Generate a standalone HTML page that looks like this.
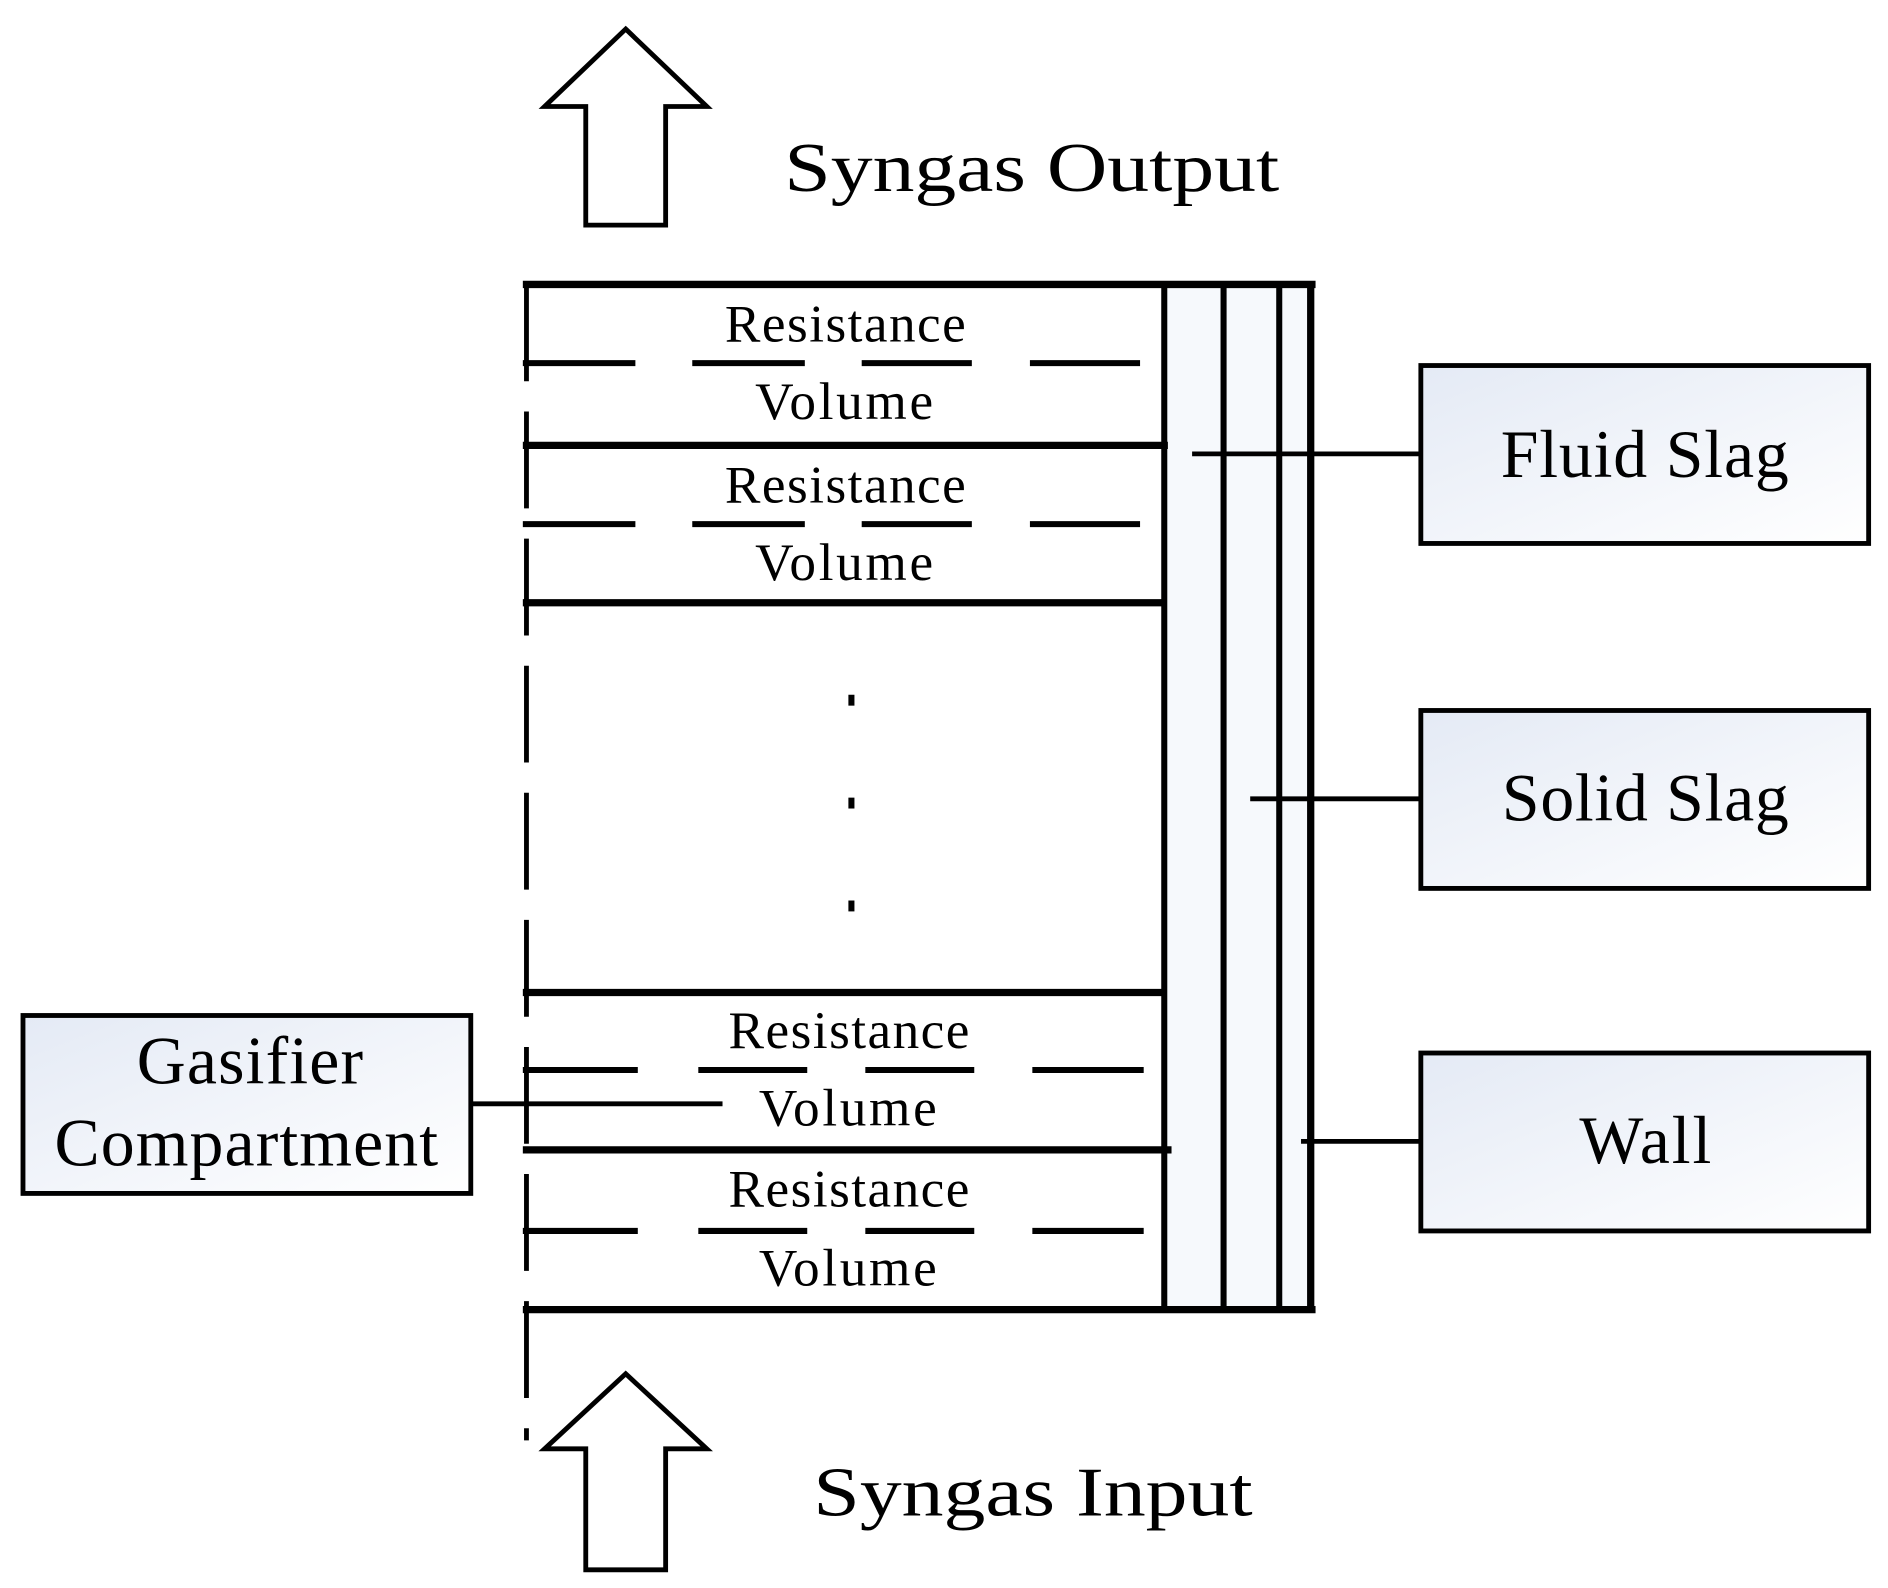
<!DOCTYPE html>
<html><head><meta charset="utf-8"><style>html,body{margin:0;padding:0;background:#fff}svg{display:block}text{font-family:"Liberation Serif","Times New Roman",serif}</style></head>
<body>
<svg width="1888" height="1588" viewBox="0 0 1560 1312" preserveAspectRatio="none" xmlns="http://www.w3.org/2000/svg">
<defs>
<linearGradient id="g" x1="0" y1="0" x2="1" y2="1"><stop offset="0" stop-color="#e4eaf5"/><stop offset="1" stop-color="#ffffff"/></linearGradient>
</defs>
<g fill="#fff" stroke="#000" stroke-width="4">
<polygon points="517,24 584,88 550,88 550,186 484,186 484,88 450,88"/>
<polygon points="517,1135 584,1197 550,1197 550,1297 484,1297 484,1197 450,1197"/>
</g>
<text x="648" y="158" font-size="58" textLength="409" lengthAdjust="spacingAndGlyphs">Syngas Output</text>
<text x="672" y="1252" font-size="58" textLength="363" lengthAdjust="spacingAndGlyphs">Syngas Input</text>
<rect x="962" y="235" width="123" height="847" fill="#eef3fa" opacity="0.5"/>
<g stroke="#000" fill="none">
<line x1="432" y1="235" x2="1087" y2="235" stroke-width="6"/>
<line x1="432" y1="1082" x2="1087" y2="1082" stroke-width="6"/>
<line x1="962" y1="235" x2="962" y2="1082" stroke-width="5"/>
<line x1="1011" y1="235" x2="1011" y2="1082" stroke-width="5"/>
<line x1="1057" y1="235" x2="1057" y2="1082" stroke-width="5"/>
<line x1="1083" y1="235" x2="1083" y2="1082" stroke-width="6"/>
<line x1="432" y1="368" x2="965" y2="368" stroke-width="6"/>
<line x1="432" y1="498" x2="962" y2="498" stroke-width="6"/>
<line x1="432" y1="820" x2="962" y2="820" stroke-width="6"/>
<line x1="432" y1="950" x2="968" y2="950" stroke-width="6"/>
<g stroke-width="5">
<path d="M432 300H525M572 300H665M712 300H803M851 300H942"/>
<path d="M432 433H525M572 433H665M712 433H803M851 433H942"/>
<path d="M432 884H527M577 884H667M715 884H805M853 884H945"/>
<path d="M432 1017H527M577 1017H667M715 1017H805M853 1017H945"/>
</g>
<path d="M435 235V1190" stroke-width="4" stroke-dasharray="80 25"/>
<g stroke-width="4">
<line x1="985" y1="375" x2="1173" y2="375"/>
<line x1="1033" y1="660" x2="1173" y2="660"/>
<line x1="1075" y1="943" x2="1173" y2="943"/>
<line x1="390" y1="912" x2="597" y2="912"/>
</g>
</g>
<g fill="#000">
<rect x="701" y="574" width="5" height="9"/><rect x="701" y="659" width="5" height="9"/><rect x="701" y="744" width="5" height="9"/>
</g>
<g font-size="44" lengthAdjust="spacingAndGlyphs">
<text x="599" y="282" textLength="199">Resistance</text><text x="624" y="346" textLength="147">Volume</text>
<text x="599" y="415" textLength="199">Resistance</text><text x="624" y="479" textLength="147">Volume</text>
<text x="602" y="866" textLength="199">Resistance</text><text x="627" y="930" textLength="147">Volume</text>
<text x="602" y="997" textLength="199">Resistance</text><text x="627" y="1062" textLength="147">Volume</text>
</g>
<g fill="url(#g)" stroke="#000" stroke-width="4">
<rect x="1174" y="302" width="370" height="147"/>
<rect x="1174" y="587" width="370" height="147"/>
<rect x="1174" y="870" width="370" height="147"/>
<rect x="19" y="839" width="370" height="147"/>
</g>
<g font-size="56" lengthAdjust="spacingAndGlyphs">
<text x="1240" y="394" textLength="238">Fluid Slag</text>
<text x="1241" y="678" textLength="237">Solid Slag</text>
<text x="1305" y="961" textLength="109">Wall</text>
<text x="113" y="895" textLength="187">Gasifier</text>
<text x="45" y="963" textLength="317">Compartment</text>
</g>
</svg>
</body></html>
